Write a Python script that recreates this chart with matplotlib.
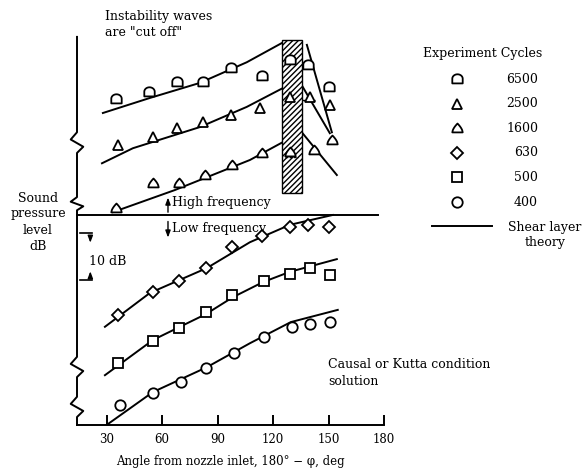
import numpy as np
import matplotlib
matplotlib.use("Agg")
import matplotlib.pyplot as plt
from matplotlib.path import Path
from matplotlib.patches import Rectangle
from matplotlib.lines import Line2D

plt.rcParams["font.family"] = ["DejaVu Serif"]
plt.rcParams["hatch.linewidth"] = 1.0

W, H = 583, 468  # output size in pixels

# measured levels (angle in deg, level in dB with arbitrary offsets per band)
ang_6500 = [35, 53, 68, 82, 97, 114, 129, 139, 150]
spl_6500 = [69.4, 70.9, 73.0, 73.0, 76.0, 74.3, 77.7, 76.6, 71.9]
ang_2500 = [36, 55, 68, 82, 97, 113, 129, 140, 151]
spl_2500 = [59.6, 61.3, 63.2, 64.5, 66.0, 67.4, 69.8, 69.8, 68.1]
ang_1600 = [35, 55, 69, 83, 98, 114, 129, 142, 152]
spl_1600 = [46.2, 51.5, 51.5, 53.2, 55.3, 57.9, 58.1, 58.5, 60.6]
ang_630 = [36, 55, 69, 84, 98, 114, 129, 139, 150]
spl_630 = [23.4, 28.3, 30.6, 33.4, 37.9, 40.2, 42.1, 42.6, 42.1]
ang_500 = [36, 55, 69, 84, 98, 115, 129, 140, 151]
spl_500 = [13.2, 17.9, 20.6, 24.0, 27.7, 30.6, 32.1, 33.4, 31.9]
ang_400 = [37, 55, 70, 84, 99, 115, 130, 140, 151]
spl_400 = [4.3, 6.8, 9.1, 12.1, 15.3, 18.7, 20.9, 21.5, 21.9]

# shear layer theory curves (high frequency: rising part + part past the cut-off)
th_6500_up = ([28, 53.4, 80.4, 105.8, 124.8], [66.4, 69.6, 72.8, 77.2, 81.3])
th_6500_dn = ([138.3, 151.8], [80.9, 62.3])
th_2500_up = ([27.5, 44.2, 80.4, 105.8, 125.3], [55.7, 58.9, 63.4, 67.7, 71.7])
th_2500_dn = ([134.5, 150.7], [73.0, 62.1])
th_1600_up = ([33.4, 66.9, 107.5, 125.3], [45.3, 50.0, 56.4, 60.2])
th_1600_dn = ([134.5, 154.5], [62.8, 53.2])
th_630 = ([29.1, 53.4, 84.2, 107.5, 129.1, 152.3], [20.9, 28.1, 33.4, 38.9, 42.6, 44.7])
th_500 = ([29.1, 55.1, 83.7, 98.3, 114.5, 129.1, 154.5], [10.6, 18.1, 23.6, 27.2, 30.4, 32.6, 35.3])
th_400 = ([30.0, 55.0, 84.2, 107.5, 129.6, 155.0], [0.0, 7.0, 12.3, 17.4, 21.9, 24.5])

cycles = ["6500", "2500", "1600", "630", "500", "400"]
xticks = [30, 60, 90, 120, 150, 180]
cutoff = (124.8, 135.6, 49.4, 81.9)  # hatched band: x0, x1, y0, y1
divider = 44.7


def dome():
    t = np.linspace(0, np.pi, 20)
    v = np.column_stack([np.cos(t), 0.15 + 0.85 * np.sin(t)])
    v = np.vstack([[1, -0.75], v, [-1, -0.75], [1, -0.75]])
    return Path(v, closed=True)


def bell():
    x = np.linspace(1, -1, 21)
    y = -0.75 + 1.7 * (1 - np.abs(x)) ** 0.6
    v = np.vstack([[1, -0.75], np.column_stack([x, y]), [1, -0.75]])
    return Path(v, closed=True)


markers = {
    "6500": dome(), "2500": "^", "1600": bell(),
    "630": "D", "500": "s", "400": "o",
}
msize = {"6500": 7.5, "2500": 7.5, "1600": 7.5, "630": 5.8, "500": 7, "400": 7.5}
series = {
    "6500": (ang_6500, spl_6500), "2500": (ang_2500, spl_2500),
    "1600": (ang_1600, spl_1600), "630": (ang_630, spl_630),
    "500": (ang_500, spl_500), "400": (ang_400, spl_400),
}

fig = plt.figure(figsize=(W / 100, H / 100), dpi=100)
fig.set_facecolor("white")
ax = fig.add_axes([77 / W, 1 - 425 / H, 307 / W, 390 / H])
ax.set_xlim(14, 180)
ax.set_ylim(0, 83)

LW = 1.4
FS = 9
for c in [th_6500_up, th_6500_dn, th_2500_up, th_2500_dn, th_1600_up,
          th_1600_dn, th_630, th_500, th_400]:
    ax.plot(*c, color="black", lw=LW, zorder=2)

for k in cycles:
    a, s = series[k]
    ax.plot(a, s, ls="none", marker=markers[k], ms=msize[k], mfc="white",
            mec="black", mew=1.3, zorder=6)

# cut-off band
x0, x1, y0, y1 = cutoff
ax.add_patch(Rectangle((x0, y0), x1 - x0, y1 - y0, facecolor="white",
                       edgecolor="black", hatch="//////", lw=1.0, zorder=4))
ax.plot([135.6, 142.7], [69.1, 69.1], color="black", lw=1, ls=(0, (2, 1)), zorder=5)
ax.plot([126.3, 133.3], [57.0, 57.0], color="black", lw=1, ls=(0, (2, 1)), zorder=5)

# high / low frequency divider
ax.plot([14, 176.6], [divider, divider], color="black", lw=LW, clip_on=False)
arr = dict(arrowstyle="-|>,head_length=0.4,head_width=0.15", color="black", lw=1)
ax.annotate("", xy=(63.2, 49.0), xytext=(63.2, divider), arrowprops=arr)
ax.annotate("", xy=(63.2, 39.3), xytext=(63.2, divider - 0.8), arrowprops=arr)
ax.text(65.2, 47.3, "High frequency", fontsize=FS, va="center", ha="left")
ax.text(65.2, 41.8, "Low frequency", fontsize=FS, va="center", ha="left")

# 10 dB scale mark
ax.plot([15.5, 22.0], [40.9, 40.9], color="black", lw=1.2)
ax.plot([15.5, 22.0], [30.8, 30.8], color="black", lw=1.2)
ax.annotate("", xy=(21.2, 38.2), xytext=(21.2, 40.9), arrowprops=arr)
ax.annotate("", xy=(21.2, 33.3), xytext=(21.2, 30.8), arrowprops=arr)
ax.text(20.3, 34.8, "10 dB", fontsize=FS, va="center", ha="left")

# broken left axis
dx = 3.4
breaks = [(62.3, 57.9), (48.5, 45.7), (14.5, 10.2), (6.0, 1.7)]
xs, ys = [14], [82.6]
for top, bot in breaks:
    h = top - bot
    xs += [14, 14 - dx, 14 + dx, 14]
    ys += [top, top - 0.35 * h, top - 0.7 * h, bot]
xs.append(14)
ys.append(0)
ax.plot(xs, ys, color="black", lw=LW, clip_on=False)

for side in ["left", "right", "top"]:
    ax.spines[side].set_visible(False)
ax.spines["bottom"].set_linewidth(LW)
ax.set_xticks(xticks)
ax.set_xticklabels([str(t) for t in xticks])
ax.tick_params(axis="x", direction="in", length=7, width=1.4, labelsize=8.5, pad=6)
ax.set_yticks([])
ax.set_xlabel("Angle from nozzle inlet, 180° − φ, deg", fontsize=8.5, labelpad=6)

# figure texts
fig.text(105 / W, 1 - 10 / H, "Instability waves\nare \"cut off\"", fontsize=FS,
         va="top", ha="left", linespacing=1.3)
fig.text(38 / W, 1 - 222 / H, "Sound\npressure\nlevel\ndB", fontsize=FS,
         ha="center", va="center", linespacing=1.3)
fig.text(328 / W, 1 - 373 / H, "Causal or Kutta condition\nsolution", fontsize=FS,
         ha="left", va="center", linespacing=1.45)

# legend
fig.text(483 / W, 1 - 53 / H, "Experiment Cycles", fontsize=FS, ha="center", va="center")
for i, k in enumerate(cycles):
    yy = 1 - (79 + i * 24.6) / H
    fig.add_artist(Line2D([457 / W], [yy], marker=markers[k], ms=msize[k],
                          mfc="white", mec="black", mew=1.3, ls="none"))
    fig.text(538 / W, yy, k, fontsize=FS, ha="right", va="center")
fig.add_artist(Line2D([432 / W, 492 / W], [1 - 226 / H] * 2, color="black", lw=LW))
fig.text(545 / W, 1 - 235 / H, "Shear layer\ntheory", fontsize=FS, ha="center",
         va="center", linespacing=1.2)

fig.savefig("out.png", dpi=100)
